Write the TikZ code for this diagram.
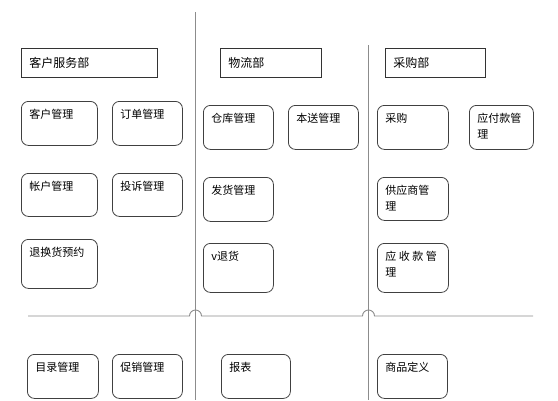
\documentclass[tikz,border=0pt]{standalone}
\usepackage{fontspec}
\setmainfont{Noto Sans CJK SC}
\tikzset{
  sep/.style={draw=black!45, line width=0.9pt},
  hdr/.style={draw=black!80, line width=0.8pt, anchor=north west, inner sep=0pt, font=\fontsize{12pt}{14pt}\selectfont},
  rbox/.style={draw=black!75, line width=0.8pt, rounded corners=7pt, anchor=north west, inner sep=0pt, font=\fontsize{11pt}{16.5pt}\selectfont},
}
\newcommand\hbx[6]{\node[hdr] (#1) at (#2pt,-#3pt) {\parbox[c][#5pt][c]{#4pt}{\hspace*{8pt}#6}};}
\newcommand\rbx[6]{\node[rbox] (#1) at (#2pt,-#3pt) {\parbox[c][#5pt][t]{#4pt}{\raggedright\leftskip=8pt\vspace*{7.5pt}#6}};}
\begin{document}
\begin{tikzpicture}[x=1pt,y=1pt]
\useasboundingbox (0,0) rectangle (558,-400);
% separators
\coordinate (v1t) at (195.5,-12);
\coordinate (v1b) at (195.5,-400);
\coordinate (v2t) at (368.5,-45);
\coordinate (v2b) at (368.5,-400);
\coordinate (hl) at (28,-316);
\coordinate (hr) at (533,-316);
\draw[sep] (v1t) -- (v1b);
\draw[sep] (v2t) -- (v2b);
\draw[sep] (hl) -- (189.5,-316) arc[start angle=180,end angle=0,radius=6] -- (362.5,-316) arc[start angle=180,end angle=0,radius=6] -- (hr);
% headers
\hbx{h1}{21}{48}{136}{29}{客户服务部}
\hbx{h2}{220}{48}{101}{29}{物流部}
\hbx{h3}{385}{48}{100}{29}{采购部}
% boxes
\rbx{b1}{21}{101}{76}{44}{客户管理}
\rbx{b2}{112}{101}{70}{44}{订单管理}
\rbx{b3}{203}{105}{70}{44}{仓库管理}
\rbx{b4}{288}{105}{70}{44}{本送管理}
\rbx{b5}{377}{105}{71}{44}{采购}
\rbx{b6}{469}{105}{64}{44}{应付款管\\理}
\rbx{b7}{21}{173}{76}{43}{帐户管理}
\rbx{b8}{112}{173}{70}{43}{投诉管理}
\rbx{b9}{21}{239}{76}{49}{退换货预约}
\rbx{b10}{203}{177}{70}{44}{发货管理}
\rbx{b11}{203}{243}{70}{49}{v退货}
\rbx{b12}{377}{177}{71}{43}{供应商管\\理}
\rbx{b13}{377}{243}{71}{49}{应 收 款 管\\理}
\rbx{b14}{27}{354}{71}{44}{目录管理}
\rbx{b15}{112}{354}{70}{44}{促销管理}
\rbx{b16}{221}{354}{69}{44}{报表}
\rbx{b17}{377}{354}{70}{44}{商品定义}
\end{tikzpicture}
\end{document}
